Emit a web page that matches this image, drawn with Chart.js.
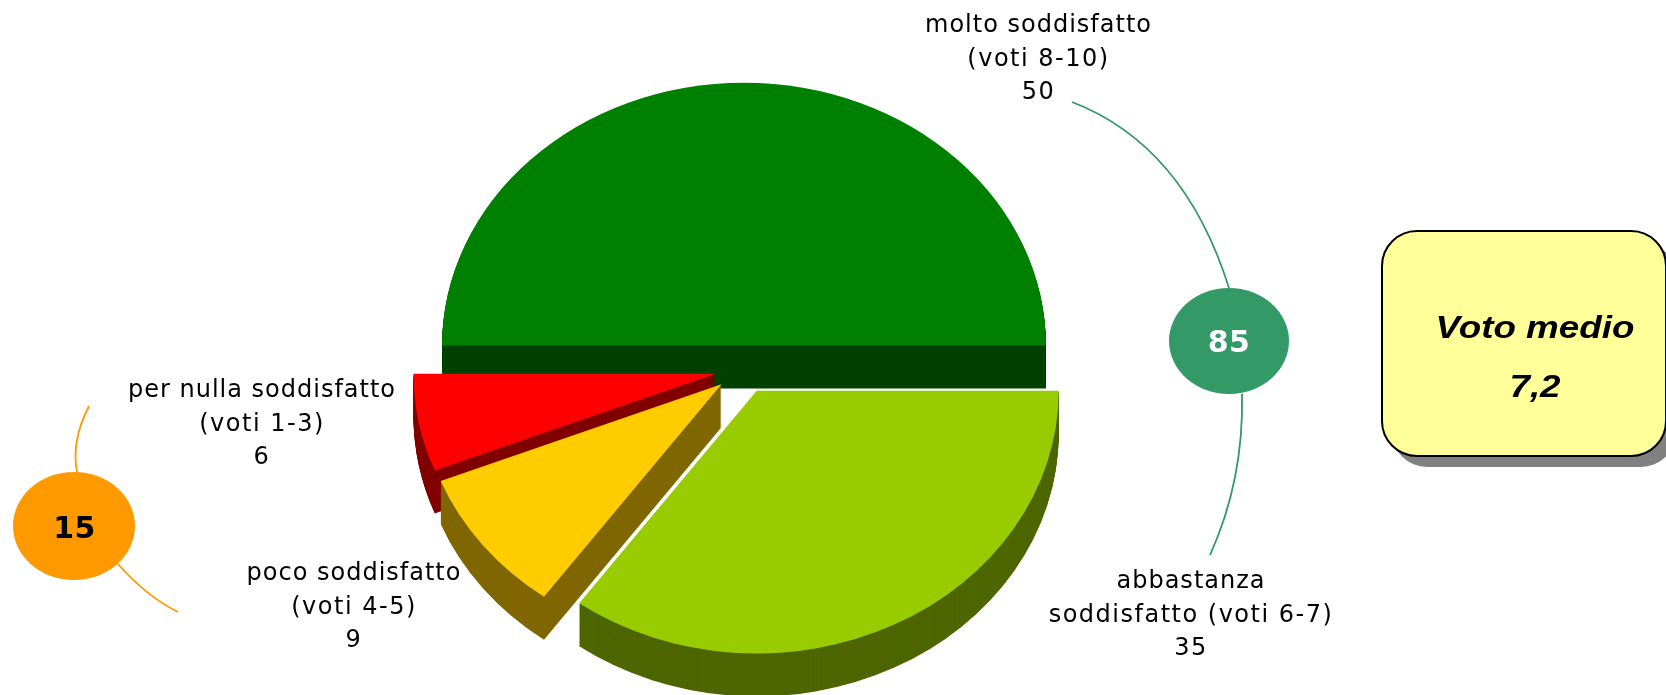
<!DOCTYPE html>
<html>
<head>
<meta charset="utf-8">
<style>
  html, body { margin: 0; padding: 0; background: #fff; overflow: hidden; }
  canvas { display: block; }
</style>
</head>
<body>
<canvas id="myChart" width="1666" height="695"></canvas>
<script src="https://cdn.jsdelivr.net/npm/chart.js@4/dist/chart.umd.min.js"></script>
<script>
// slices, clockwise from 9 o'clock
const categories = ['molto soddisfatto', 'abbastanza soddisfatto', 'poco soddisfatto', 'per nulla soddisfatto'];
const votes = [50, 35, 9, 6];
const sliceColors = ['#008000', '#99CC00', '#FFCC00', '#FF0000'];
const sideColors = ['#004000', '#4D6600', '#806600', '#800000'];
const explode = [27, 28, 28.5, 29];
const drawOrder = [0, 3, 2, 1];

const voteRanges = [['molto soddisfatto', '(voti 8-10)'], ['abbastanza', 'soddisfatto (voti 6-7)'], ['poco soddisfatto', '(voti 4-5)'], ['per nulla soddisfatto', '(voti 1-3)']];
const labelX = [1038.5, 1191, 354, 262];
const labelY = [32, 588, 580, 397];

const satisfied = 85;
const unsatisfied = 15;
const meanTitle = 'Voto medio';
const meanValue = '7,2';

const tilt = 0.87;
const depth = 43;

function drawText(ctx, text, x, y, font, color, spacing, stretch) {
    ctx.save();
    ctx.translate(x, y);
    ctx.scale(stretch || 1, 1);
    ctx.font = font;
    ctx.fillStyle = color;
    ctx.letterSpacing = spacing + 'px';
    ctx.textAlign = 'center';
    ctx.textBaseline = 'alphabetic';
    ctx.fillText(text, 0, 0);
    ctx.restore();
}

function leader(ctx, color, x0, y0, cx, cy, x1, y1) {
    ctx.strokeStyle = color;
    ctx.lineWidth = 1.8;
    ctx.beginPath();
    ctx.moveTo(x0, y0);
    ctx.quadraticCurveTo(cx, cy, x1, y1);
    ctx.stroke();
}

function bubble(ctx, color, x, y, rx, ry) {
    ctx.fillStyle = color;
    ctx.beginPath();
    ctx.ellipse(x, y, rx, ry, 0, 0, Math.PI * 2);
    ctx.fill();
}

// tilted pie with a side wall: every arc is drawn by the library, only squashed and stacked here
const pie3d = {
    id: 'pie3d',
    beforeDatasetsDraw(chart) {
        const ctx = chart.ctx;
        const arcs = chart.getDatasetMeta(0).data;
        drawOrder.forEach(i => {
            const arc = arcs[i];
            const mid = (arc.startAngle + arc.endAngle) / 2;
            const dx = Math.cos(mid) * explode[i];
            const dy = Math.sin(mid) * explode[i] * tilt;
            const opts = arc.options;
            for (let d = depth; d >= 0; d--) {
                arc.options = Object.assign({}, opts, { backgroundColor: d > 0 ? sideColors[i] : sliceColors[i] });
                ctx.save();
                ctx.translate(arc.x + dx, arc.y + dy + d);
                ctx.scale(1, tilt);
                ctx.translate(-arc.x, -arc.y);
                arc.draw(ctx);
                ctx.restore();
            }
            arc.options = opts;
        });
        return false;
    },
    afterDraw(chart) {
        const ctx = chart.ctx;
        ctx.save();

        // leaders and totals
        leader(ctx, '#339966', 1072, 102, 1184, 145, 1229, 288);
        leader(ctx, '#339966', 1242, 394, 1244, 480, 1210, 555);
        leader(ctx, '#FF9900', 89, 406, 71, 441, 77, 472);
        leader(ctx, '#FF9900', 118, 564, 146, 596, 178, 612);
        bubble(ctx, '#339966', 1229, 341, 60, 53);
        bubble(ctx, '#FF9900', 74, 526, 61, 54);
        drawText(ctx, String(satisfied), 1229, 352, 'bold 30px "DejaVu Sans"', '#FFFFFF', 0.5);
        drawText(ctx, String(unsatisfied), 74.5, 538, 'bold 30px "DejaVu Sans"', '#000000', 0.5);

        // slice labels
        votes.forEach((v, i) => {
            const lines = voteRanges[i].concat(String(v));
            lines.forEach((t, n) => {
                drawText(ctx, t, labelX[i], labelY[i] + n * 33.5, '24px "DejaVu Sans"', '#000000', n === 0 ? 1 : 1.5);
            });
        });

        // mean vote box
        ctx.fillStyle = '#808080';
        ctx.beginPath();
        ctx.roundRect(1392, 242, 284, 225, 35);
        ctx.fill();
        ctx.fillStyle = '#FFFF99';
        ctx.strokeStyle = '#000000';
        ctx.lineWidth = 2;
        ctx.beginPath();
        ctx.roundRect(1382, 231, 284, 225, 35);
        ctx.fill();
        ctx.stroke();
        drawText(ctx, meanTitle, 1535, 338, 'italic bold 32px "Liberation Sans"', '#000000', 0, 1.15);
        drawText(ctx, meanValue, 1535, 397, 'italic bold 32px "Liberation Sans"', '#000000', 0, 1.15);

        ctx.restore();
    }
};

const ctx = document.getElementById('myChart').getContext('2d');
const myChart = new Chart(ctx, {
    type: 'pie',
    data: {
        labels: categories,
        datasets: [
            {
                data: votes,
                backgroundColor: sliceColors,
                borderWidth: 0,
            },
        ],
    },
    options: {
        responsive: false,
        animation: false,
        rotation: -90,
        radius: 302,
        layout: {
            padding: { left: 0, right: 178, top: 43, bottom: 0 },
        },
        plugins: {
            legend: { display: false },
            tooltip: { enabled: false },
        },
    },
    plugins: [pie3d],
});
</script>
</body>
</html>
